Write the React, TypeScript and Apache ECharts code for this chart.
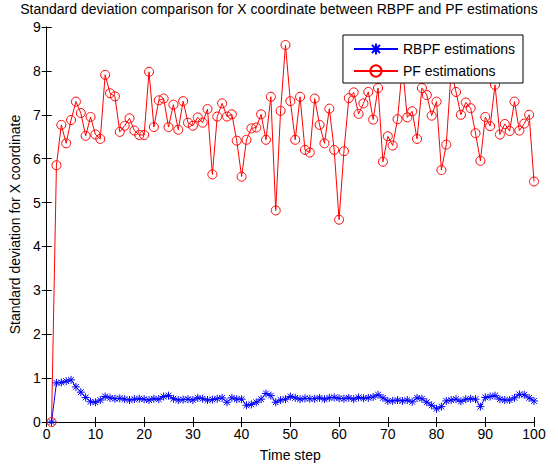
import React, { useEffect, useRef } from "react";
import * as echarts from "echarts";

const titleText = "Standard deviation comparison for X coordinate between RBPF and PF estimations";
const xAxisName = "Time step";
const yAxisName = "Standard deviation for X coordinate";
const seriesNames = ["RBPF estimations", "PF estimations"];

const timeSteps = Array.from({ length: 100 }, (_, i) => i + 1);

const rbpfValues = [
  0, 0.89, 0.9, 0.93, 0.96, 0.8, 0.68, 0.56, 0.46, 0.45,
  0.5, 0.58, 0.55, 0.53, 0.54, 0.52, 0.5, 0.52, 0.53, 0.52,
  0.5, 0.53, 0.52, 0.58, 0.6, 0.53, 0.5, 0.51, 0.52, 0.5,
  0.55, 0.53, 0.5, 0.51, 0.53, 0.55, 0.45, 0.55, 0.52, 0.52,
  0.38, 0.4, 0.45, 0.52, 0.65, 0.6, 0.45, 0.5, 0.52, 0.58,
  0.55, 0.52, 0.54, 0.53, 0.53, 0.55, 0.52, 0.55, 0.56, 0.54,
  0.53, 0.55, 0.52, 0.56, 0.54, 0.55, 0.57, 0.62, 0.55, 0.48,
  0.48, 0.5, 0.48, 0.5, 0.46, 0.55, 0.53, 0.45, 0.38, 0.3,
  0.35, 0.48, 0.5, 0.52, 0.47, 0.52, 0.53, 0.52, 0.35, 0.56,
  0.58, 0.6, 0.52, 0.5, 0.5, 0.55, 0.63, 0.62, 0.55, 0.48,
];

const pfValues = [
  0, 5.85, 6.77, 6.35, 6.88, 7.3, 7.04, 6.52, 6.95, 6.55,
  6.45, 7.91, 7.49, 7.42, 6.61, 6.75, 6.92, 6.64, 6.54, 6.54,
  7.98, 6.72, 7.33, 7.37, 6.72, 7.23, 6.66, 7.31, 6.82, 6.75,
  6.94, 6.82, 7.13, 5.64, 6.96, 7.26, 6.96, 7.01, 6.41, 5.59,
  6.43, 6.69, 6.71, 7.01, 6.43, 7.41, 4.82, 7.09, 8.59, 7.31,
  6.43, 7.41, 6.2, 6.14, 7.37, 6.77, 6.35, 7.14, 6.2, 4.61,
  6.17, 7.38, 7.51, 7.02, 7.26, 7.52, 6.89, 7.61, 5.93, 6.51,
  6.3, 6.9, 8.1, 6.94, 7.08, 6.45, 7.61, 7.45, 6.98, 7.3,
  5.74, 6.32, 8.0, 7.52, 7.0, 7.28, 7.15, 6.58, 5.95, 6.95,
  6.74, 7.68, 6.55, 6.79, 6.63, 7.3, 6.64, 6.8, 7.0, 5.48,
];

const FONT = "'Liberation Sans', Arial, Helvetica, sans-serif";
const ASTERISK = "path://M0,-5L0,5M-5,0L5,0M-3.6,-3.6L3.6,3.6M-3.6,3.6L3.6,-3.6";

export default function App() {
  const ref = useRef<HTMLDivElement>(null);

  useEffect(() => {
    if (!ref.current) return;
    const chart = echarts.init(ref.current, null, { renderer: "svg" });
    const axisCommon = {
      axisLine: { lineStyle: { color: "#000", width: 1 } },
      splitLine: { show: false },
    };
    chart.setOption({
      animation: false,
      backgroundColor: "#fff",
      textStyle: { fontFamily: FONT },
      title: {
        text: titleText,
        left: "center",
        top: 0,
        padding: [2, 5, 2, 5],
        textStyle: { fontFamily: FONT, fontSize: 14, fontWeight: "normal", color: "#000" },
      },
      grid: { left: 43, right: 24, top: 27, bottom: 44 },
      legend: {
        orient: "vertical",
        right: 35,
        top: 35,
        data: seriesNames,
        backgroundColor: "#fff",
        borderColor: "#000",
        borderWidth: 1,
        borderRadius: 0,
        padding: [7, 8, 5, 10],
        itemWidth: 44,
        itemHeight: 14,
        itemGap: 8,
        textStyle: { fontFamily: FONT, fontSize: 14, color: "#000" },
      },
      xAxis: [
        {
          type: "value",
          min: 0,
          max: 100,
          interval: 10,
          name: xAxisName,
          nameLocation: "middle",
          nameGap: 26,
          nameTextStyle: { fontFamily: FONT, fontSize: 14, color: "#000" },
          axisTick: { inside: true, length: 5, lineStyle: { color: "#000" } },
          axisLabel: { fontFamily: FONT, fontSize: 14, color: "#000", margin: 5 },
          ...axisCommon,
        },
        {
          type: "value",
          position: "top",
          min: 0,
          max: 100,
          interval: 10,
          axisTick: { inside: true, length: 5, lineStyle: { color: "#000" } },
          axisLabel: { show: false },
          ...axisCommon,
        },
      ],
      yAxis: [
        {
          type: "value",
          min: 0,
          max: 9,
          interval: 1,
          name: yAxisName,
          nameLocation: "middle",
          nameGap: 22,
          nameTextStyle: { fontFamily: FONT, fontSize: 14, color: "#000" },
          axisTick: { inside: true, length: 5, lineStyle: { color: "#000" } },
          axisLabel: { fontFamily: FONT, fontSize: 14, color: "#000", margin: 6 },
          ...axisCommon,
        },
        {
          type: "value",
          position: "right",
          min: 0,
          max: 9,
          interval: 1,
          axisTick: { inside: true, length: 5, lineStyle: { color: "#000" } },
          axisLabel: { show: false },
          ...axisCommon,
        },
      ],
      series: [
        {
          name: seriesNames[0],
          type: "line",
          data: timeSteps.map((t, i) => [t, rbpfValues[i]]),
          symbol: ASTERISK,
          symbolSize: 8,
          showAllSymbol: true,
          lineStyle: { color: "#0000ff", width: 1 },
          itemStyle: { color: "#0000ff", borderColor: "#0000ff", borderWidth: 1 },
          emphasis: { disabled: true },
        },
        {
          name: seriesNames[1],
          type: "line",
          data: timeSteps.map((t, i) => [t, pfValues[i]]),
          symbol: "circle",
          symbolSize: 9,
          showAllSymbol: true,
          lineStyle: { color: "#ff0000", width: 1 },
          itemStyle: { color: "rgba(255,255,255,0)", borderColor: "#ff0000", borderWidth: 1 },
          emphasis: { disabled: true },
        },
      ],
    });
    return () => chart.dispose();
  }, []);

  return (
    <div
      ref={ref}
      style={{ position: "fixed", left: 0, top: 0, width: 558, height: 467, background: "#fff" }}
    />
  );
}
